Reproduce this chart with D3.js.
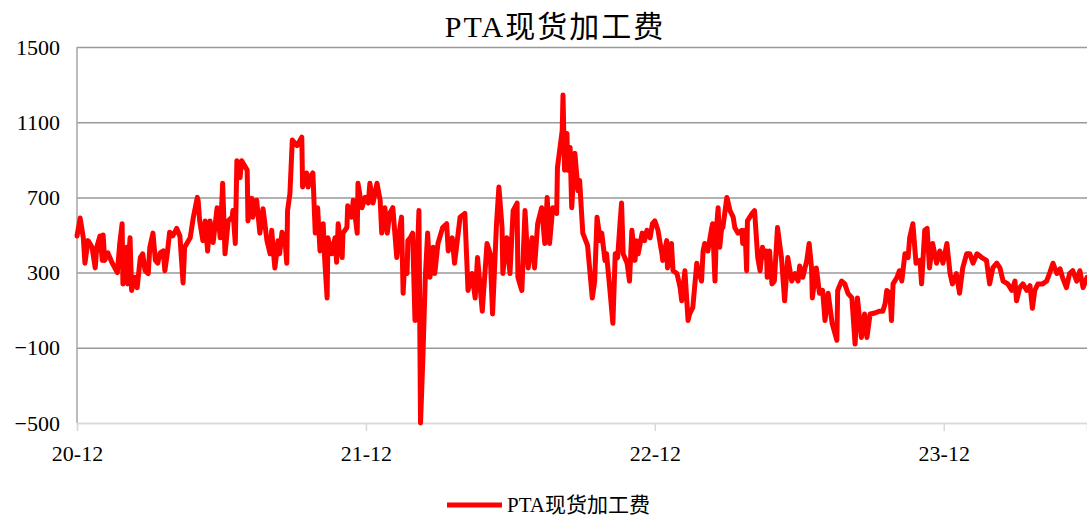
<!DOCTYPE html>
<html>
<head>
<meta charset="utf-8">
<script src="https://cdn.jsdelivr.net/npm/d3@7"></script>
<style>
  body { margin: 0; background: #fff; }
  svg { display: block; font-family: "Times New Roman", "Liberation Serif", "Noto Sans CJK SC", serif; }
</style>
</head>
<body>
<svg id="canvas"></svg>
<script>
const title = 'PTA现货加工费';
const seriesName = 'PTA现货加工费';

const dates = [
  '2020-12-01','2020-12-05','2020-12-09','2020-12-11','2020-12-15','2020-12-20','2020-12-24','2020-12-26','2020-12-30',
  '2021-01-02','2021-01-03','2021-01-05','2021-01-09','2021-01-14','2021-01-21','2021-01-24','2021-01-27','2021-01-28',
  '2021-02-02','2021-02-03','2021-02-06','2021-02-08','2021-02-12','2021-02-15','2021-02-19','2021-02-22','2021-02-25',
  '2021-03-01','2021-03-03','2021-03-07','2021-03-10','2021-03-13','2021-03-16','2021-03-20','2021-03-22','2021-03-25','2021-03-28',
  '2021-04-01','2021-04-06','2021-04-10','2021-04-14','2021-04-16','2021-04-23','2021-04-27',
  '2021-05-02','2021-05-03','2021-05-05','2021-05-09','2021-05-12','2021-05-15','2021-05-18','2021-05-22','2021-05-27','2021-05-31',
  '2021-06-03','2021-06-06','2021-06-10','2021-06-15','2021-06-16','2021-06-19','2021-06-21','2021-06-25','2021-06-27',
  '2021-07-04','2021-07-05','2021-07-10','2021-07-11','2021-07-16','2021-07-20','2021-07-24','2021-07-29',
  '2021-08-02','2021-08-04','2021-08-06','2021-08-08','2021-08-12','2021-08-14','2021-08-17','2021-08-21','2021-08-23','2021-08-24','2021-08-27','2021-08-30',
  '2021-09-05','2021-09-11','2021-09-12','2021-09-17','2021-09-19','2021-09-21','2021-09-25','2021-09-28',
  '2021-10-01','2021-10-04','2021-10-08','2021-10-10','2021-10-13','2021-10-14','2021-10-19','2021-10-23','2021-10-25','2021-10-27',
  '2021-11-01','2021-11-02','2021-11-07','2021-11-08','2021-11-13','2021-11-15','2021-11-20','2021-11-21','2021-11-26','2021-11-30',
  '2021-12-04','2021-12-06','2021-12-10','2021-12-15','2021-12-19','2021-12-21','2021-12-25','2021-12-28','2021-12-31',
  '2022-01-04','2022-01-09','2022-01-13','2022-01-15','2022-01-17','2022-01-19','2022-01-22','2022-01-23','2022-01-26','2022-01-29',
  '2022-02-01','2022-02-06','2022-02-08','2022-02-11','2022-02-14','2022-02-17','2022-02-20','2022-02-24','2022-02-26',
  '2022-03-02','2022-03-08','2022-03-13','2022-03-15','2022-03-20','2022-03-23','2022-03-30',
  '2022-04-05','2022-04-09','2022-04-14','2022-04-18','2022-04-21','2022-04-27',
  '2022-05-03','2022-05-07','2022-05-10','2022-05-15','2022-05-18','2022-05-22','2022-05-23','2022-05-28',
  '2022-06-01','2022-06-05','2022-06-10','2022-06-11','2022-06-16','2022-06-20','2022-06-24','2022-06-29',
  '2022-07-02','2022-07-06','2022-07-11','2022-07-15','2022-07-18','2022-07-21','2022-07-25','2022-07-30','2022-07-31',
  '2022-08-06','2022-08-07','2022-08-09','2022-08-12','2022-08-13','2022-08-16','2022-08-18','2022-08-22','2022-08-26','2022-08-28',
  '2022-09-01','2022-09-07','2022-09-13','2022-09-16','2022-09-19','2022-09-23','2022-09-25','2022-09-29',
  '2022-10-01','2022-10-05','2022-10-09','2022-10-12','2022-10-15','2022-10-18','2022-10-20','2022-10-22','2022-10-27','2022-10-30',
  '2022-11-02','2022-11-06','2022-11-08','2022-11-10','2022-11-15','2022-11-18','2022-11-21','2022-11-25','2022-11-28',
  '2022-12-01','2022-12-05','2022-12-10','2022-12-11','2022-12-16','2022-12-17','2022-12-22','2022-12-24','2022-12-29',
  '2023-01-02','2023-01-04','2023-01-08','2023-01-12','2023-01-14','2023-01-18','2023-01-23','2023-01-24','2023-01-29','2023-01-31',
  '2023-02-02','2023-02-06','2023-02-11','2023-02-12','2023-02-15','2023-02-17','2023-02-19','2023-02-21','2023-02-24','2023-02-25',
  '2023-03-02','2023-03-03','2023-03-06','2023-03-10','2023-03-12','2023-03-16','2023-03-21','2023-03-22','2023-03-25','2023-03-27','2023-03-28',
  '2023-04-03','2023-04-06','2023-04-10','2023-04-13','2023-04-16','2023-04-19','2023-04-21','2023-04-22','2023-04-25','2023-04-28',
  '2023-05-01','2023-05-05','2023-05-10','2023-05-14','2023-05-18','2023-05-23','2023-05-27','2023-05-31',
  '2023-06-02','2023-06-06','2023-06-11','2023-06-14','2023-06-17','2023-06-18','2023-06-23','2023-06-27',
  '2023-07-01','2023-07-04','2023-07-08','2023-07-13','2023-07-19','2023-07-20','2023-07-25','2023-07-29',
  '2023-08-02','2023-08-07','2023-08-11','2023-08-14','2023-08-19','2023-08-23','2023-08-26','2023-08-30',
  '2023-09-05','2023-09-11','2023-09-15','2023-09-18','2023-09-20','2023-09-24','2023-09-26','2023-09-28',
  '2023-10-03','2023-10-06','2023-10-09','2023-10-13','2023-10-17','2023-10-19','2023-10-23','2023-10-27',
  '2023-11-01','2023-11-03','2023-11-07','2023-11-10','2023-11-13','2023-11-17','2023-11-22','2023-11-26','2023-11-30',
  '2023-12-05','2023-12-09','2023-12-12','2023-12-17','2023-12-21','2023-12-25','2023-12-30',
  '2024-01-03','2024-01-07','2024-01-12','2024-01-18','2024-01-24','2024-01-28',
  '2024-02-01','2024-02-06','2024-02-10','2024-02-14','2024-02-20','2024-02-25','2024-02-29',
  '2024-03-02','2024-03-06','2024-03-10','2024-03-15','2024-03-19','2024-03-22','2024-03-25','2024-03-29',
  '2024-04-04','2024-04-09','2024-04-13','2024-04-17','2024-04-22','2024-04-26','2024-04-29',
  '2024-05-04','2024-05-08','2024-05-12','2024-05-17','2024-05-21','2024-05-25','2024-05-30'
];

const values = [
  495,590,485,350,470,435,325,435,495,
  365,500,365,405,355,300,455,560,240,
  435,240,485,205,275,220,380,400,310,
  295,435,510,365,350,405,415,310,400,515,
  495,535,495,245,435,485,595,
  700,685,575,470,575,415,575,460,645,485,
  775,400,575,595,630,455,895,805,895,
  845,575,695,595,685,510,640,470,
  400,525,415,325,470,400,515,460,350,630,720,1005,
  975,1020,755,830,755,805,830,510,
  645,415,560,365,165,485,400,485,355,560,
  380,510,540,655,595,685,510,775,645,700,
  670,775,670,775,685,510,645,510,615,
  645,380,540,595,190,350,295,470,485,510,
  45,630,-500,-150,275,510,275,435,295,
  455,540,560,415,485,350,595,
  615,205,295,165,380,95,
  455,400,80,560,755,540,295,485,
  295,630,670,275,205,630,325,485,
  325,560,645,455,700,455,645,615,860,
  1055,1245,845,1040,845,965,645,935,735,790,
  510,445,165,255,595,470,510,365,
  400,220,30,400,380,560,670,400,350,255,
  525,365,470,400,510,470,525,485,560,
  575,525,400,365,470,325,455,310,295,
  220,150,310,45,80,115,350,325,255,415,
  455,415,540,560,255,540,645,435,560,540,
  700,685,630,595,540,510,525,455,525,310,575,
  615,630,380,310,435,380,415,275,415,240,
  255,540,380,150,380,255,295,255,
  335,275,365,455,325,165,325,190,
  205,45,190,30,-60,205,255,240,
  190,165,-80,165,-45,80,-45,80,
  85,95,95,135,205,190,45,240,
  275,310,255,400,380,485,560,350,
  365,240,525,535,325,455,350,415,350,
  455,295,240,295,190,325,400,
  400,350,400,380,365,240,
  325,350,325,255,240,205,255,
  150,220,240,205,230,110,205,240,
  240,255,300,350,295,320,275,
  220,295,310,255,310,220,275
];

const yTicks = [-500, -100, 300, 700, 1100, 1500];
const xTickDates = ['2020-12-01', '2021-12-01', '2022-12-01', '2023-12-01'];

const width = 1087;
const height = 517;
const margin = { top: 47, right: 0, bottom: 94, left: 77 };

const parse = d3.timeParse('%Y-%m-%d');
const data = dates.map((d, i) => ({ date: parse(d), value: values[i] }));

const svg = d3.select('#canvas').attr('width', width).attr('height', height);

const x = d3.scaleTime()
  .domain([parse('2020-12-01'), parse('2024-05-30')])
  .range([margin.left, width - margin.right]);

const y = d3.scaleLinear()
  .domain([-500, 1500])
  .range([height - margin.bottom, margin.top]);

// gridlines + y labels
const yAxis = svg.append('g')
  .attr('transform', `translate(${margin.left},0)`)
  .call(d3.axisLeft(y).tickValues(yTicks).tickSize(-(width - margin.left)).tickPadding(17).tickFormat(d3.format('d')));
yAxis.select('.domain').remove();
yAxis.selectAll('.tick line')
  .attr('stroke', d => d === -500 ? '#d9d9d9' : '#999')
  .attr('stroke-width', 1.5);
yAxis.selectAll('.tick text')
  .attr('fill', '#000')
  .style('font-size', '22px')
  .style('font-family', '"Times New Roman", "Liberation Serif", serif');

// y axis line
svg.append('line')
  .attr('x1', margin.left).attr('x2', margin.left)
  .attr('y1', y(1500)).attr('y2', y(-500))
  .attr('stroke', '#a6a6a6').attr('stroke-width', 1.5);

// x axis
const xAxis = svg.append('g')
  .attr('transform', `translate(0,${y(-500)})`)
  .call(d3.axisBottom(x).tickValues(xTickDates.map(parse)).tickSize(8).tickPadding(14).tickFormat(d3.timeFormat('%y-%m')));
xAxis.select('.domain').attr('stroke', '#d9d9d9').attr('stroke-width', 1.5);
xAxis.selectAll('.tick line').attr('stroke', '#d9d9d9').attr('stroke-width', 1.5);
xAxis.selectAll('.tick text')
  .attr('fill', '#000')
  .style('font-size', '22px')
  .style('font-family', '"Times New Roman", "Liberation Serif", serif');

// series line
const line = d3.line()
  .x(d => x(d.date))
  .y(d => y(d.value));

svg.append('path')
  .datum(data)
  .attr('fill', 'none')
  .attr('stroke', '#ff0000')
  .attr('stroke-width', 5)
  .attr('stroke-linejoin', 'round')
  .attr('stroke-linecap', 'round')
  .attr('d', line);

// title
svg.append('text')
  .attr('x', 555)
  .attr('y', 37)
  .attr('text-anchor', 'middle')
  .style('font-size', '30px')
  .style('letter-spacing', '2px')
  .text(title);

// legend
const legend = svg.append('g').attr('transform', 'translate(447,505)');
legend.append('line')
  .attr('x1', 0).attr('x2', 55)
  .attr('stroke', '#ff0000').attr('stroke-width', 5);
legend.append('text')
  .attr('x', 60)
  .attr('y', 7)
  .style('font-size', '21px')
  .text(seriesName);
</script>
</body>
</html>
